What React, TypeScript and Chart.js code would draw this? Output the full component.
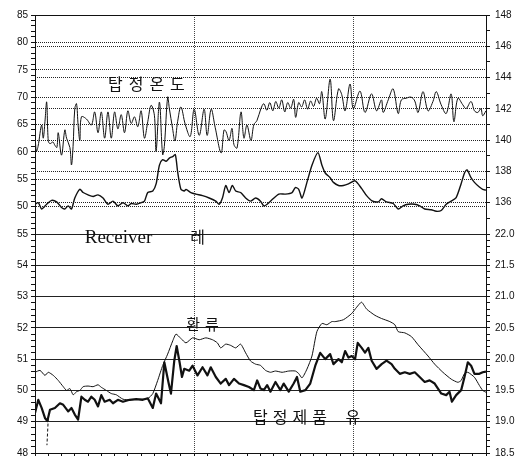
import React, { useEffect, useRef } from "react";
import { Chart, registerables } from "chart.js";

Chart.register(...registerables);

// x = elapsed time units (0..34); gridlines at 12 and 24
const xMajorLines = [12, 24];

// top panel, left axis: tower top temperature (탑정온도)
const towerTopTemp: [number, number][] = [
  [0, 63], [0.11, 60.1], [0.23, 61], [0.5, 64.9], [0.62, 62.5], [0.75, 65.5], [0.88, 69.1], [1.0, 62],
  [1.13, 61.5], [1.35, 61.8], [1.5, 61.2], [1.65, 60.8], [1.75, 63.5], [2.0, 59.4], [2.25, 64], [2.38, 62.5],
  [2.63, 60.8], [2.75, 57.6], [2.87, 61], [3.0, 67.9], [3.13, 68.8], [3.25, 64.9], [3.38, 62.1], [3.5, 66.4],
  [3.88, 66], [4.25, 64.9], [4.5, 67.3], [4.75, 63.5], [5.0, 67.3], [5.25, 62.5], [5.5, 67.3], [5.75, 62.5],
  [6.0, 67.3], [6.25, 64.2], [6.5, 66.8], [6.75, 63.5], [7.0, 67.5], [7.25, 65.2], [7.5, 66.4], [7.75, 64.6],
  [8.0, 67.5], [8.25, 62.5], [8.5, 65.5], [8.75, 68.5], [9.0, 66.7], [9.13, 60.1], [9.38, 69.1], [9.62, 59.5],
  [9.75, 61], [10.0, 70], [10.13, 67.9], [10.37, 64.3], [10.55, 62], [10.75, 65.5], [11.0, 68.2], [11.33, 65],
  [11.7, 62.8], [12.0, 67.8], [12.38, 63], [12.75, 67.8], [12.98, 63], [13.28, 67.8], [13.58, 64.5], [14.03, 59.8],
  [14.25, 64], [14.4, 63.7], [14.63, 62.1], [14.85, 64.3], [15.0, 61.3], [15.23, 60.7], [15.53, 67.3], [15.75, 62.5],
  [15.98, 64.9], [16.28, 62.1], [16.5, 65], [16.73, 65.7], [17.03, 67.9], [17.25, 68.8], [17.48, 67.6], [17.7, 69],
  [17.93, 67.5], [18.15, 69.2], [18.38, 68], [18.6, 69.5], [18.83, 67.3], [19.05, 69], [19.28, 68], [19.5, 69.6],
  [19.65, 66.3], [19.88, 69], [20.1, 68.2], [20.33, 69.5], [20.55, 67.8], [20.78, 69.3], [21.0, 68.3], [21.23, 69.8],
  [21.45, 68.8], [21.62, 71], [21.88, 66], [22.25, 73.3], [22.5, 65.7], [22.88, 71.5], [23.12, 70.5], [23.38, 67.5],
  [23.75, 72.4], [24.0, 67.9], [24.5, 71.1], [24.88, 67.2], [25.37, 70.6], [25.75, 67.5], [26.12, 69.5], [26.25, 67.2],
  [26.63, 69.5], [27.0, 71.5], [27.38, 67], [27.62, 69.5], [27.98, 69.8], [28.35, 70], [28.63, 69.3], [28.88, 67.2],
  [29.25, 71], [29.63, 67.5], [30.0, 69.2], [30.25, 71], [30.62, 68.6], [31.0, 67], [31.37, 70.6], [31.58, 65.5],
  [31.88, 69.8], [32.25, 68.6], [32.5, 67.9], [32.87, 69.2], [33.13, 67.5], [33.38, 67.2], [33.62, 67.9], [33.75, 66.6],
  [34.0, 67.5],
];

// top panel, right axis: receiver temperature
const receiverTemp: [number, number][] = [
  [0, 135.9], [0.25, 136.0], [0.5, 135.6], [0.88, 135.9], [1.25, 136.15], [1.63, 136.05], [2.0, 135.7], [2.25, 135.6],
  [2.5, 135.8], [2.75, 135.6], [3.0, 136.3], [3.38, 136.86], [3.63, 136.65], [4.0, 136.5], [4.38, 136.4], [4.75, 136.5],
  [5.13, 136.3], [5.5, 135.9], [5.88, 136.1], [6.25, 135.8], [6.63, 136.0], [7.0, 135.8], [7.25, 135.95], [7.63, 135.9],
  [8.0, 136.0], [8.25, 136.1], [8.5, 136.65], [8.88, 136.75], [9.13, 137.2], [9.38, 138.4], [9.62, 138.75], [9.88, 138.65],
  [10.13, 138.85], [10.38, 138.95], [10.58, 139.07], [10.75, 138.0], [11.0, 136.86], [11.25, 136.75], [11.38, 136.85],
  [11.75, 136.65], [12.13, 136.55], [12.63, 136.45], [13.13, 136.3], [13.63, 136.1], [13.88, 135.9], [14.13, 136.3],
  [14.38, 137.1], [14.63, 136.65], [14.88, 137.1], [15.13, 136.75], [15.5, 136.65], [15.88, 136.3], [16.25, 136.1],
  [16.63, 136.3], [17.0, 136.1], [17.25, 135.8], [17.5, 135.9], [17.88, 136.2], [18.38, 136.55], [18.88, 136.55],
  [19.38, 136.65], [19.63, 136.97], [19.88, 136.86], [20.13, 136.3], [20.5, 137.3], [20.88, 138.4], [21.33, 139.2],
  [21.63, 138.4], [21.88, 137.9], [22.25, 137.6], [22.5, 137.3], [22.88, 137.1], [23.25, 137.1], [23.63, 137.2],
  [24.13, 137.4], [24.63, 136.9], [25.0, 136.45], [25.37, 136.14], [25.88, 136.05], [26.12, 136.25], [26.5, 136.05],
  [27.0, 135.95], [27.38, 135.6], [27.75, 135.8], [28.13, 135.9], [28.63, 135.9], [29.0, 135.8], [29.38, 135.6],
  [29.87, 135.55], [30.25, 135.45], [30.62, 135.5], [31.0, 135.9], [31.37, 136.1], [31.75, 136.33], [32.12, 137.2],
  [32.38, 137.9], [32.57, 138.1], [32.87, 137.6], [33.13, 137.3], [33.5, 137.0], [33.75, 136.86], [34.0, 136.8],
];

// bottom panel, right axis: reflux (환류)
const refluxFlow: [number, number][] = [
  [0, 19.79], [0.38, 19.82], [0.75, 19.74], [1.0, 19.79], [1.38, 19.74], [1.75, 19.66], [2.13, 19.56], [2.38, 19.5],
  [2.63, 19.53], [2.88, 19.43], [3.13, 19.48], [3.38, 19.5], [3.63, 19.56], [4.0, 19.57], [4.38, 19.56], [4.75, 19.59],
  [5.0, 19.55], [5.38, 19.5], [5.75, 19.45], [6.13, 19.43], [6.63, 19.36], [7.13, 19.35], [7.88, 19.36], [8.5, 19.37],
  [8.88, 19.45], [9.25, 19.66], [9.63, 19.9], [10.0, 20.08], [10.38, 20.29], [10.63, 20.4], [11.0, 20.33], [11.38, 20.26],
  [11.88, 20.34], [12.38, 20.31], [12.88, 20.34], [13.38, 20.31], [13.75, 20.26], [14.0, 20.18], [14.38, 20.24],
  [14.75, 20.22], [15.13, 20.18], [15.5, 20.24], [15.88, 20.1], [16.25, 19.97], [16.63, 19.92], [17.0, 19.9],
  [17.38, 19.82], [17.75, 19.79], [18.13, 19.81], [18.63, 19.79], [19.13, 19.81], [19.63, 19.81], [19.88, 19.77],
  [20.13, 19.7], [20.5, 19.84], [20.88, 20.05], [21.25, 20.44], [21.63, 20.57], [22.0, 20.55], [22.38, 20.6],
  [22.63, 20.6], [23.25, 20.63], [23.88, 20.73], [24.25, 20.83], [24.62, 20.91], [25.0, 20.8], [25.63, 20.7],
  [26.12, 20.65], [26.75, 20.6], [27.13, 20.55], [27.38, 20.44], [27.88, 20.42], [28.38, 20.36], [28.88, 20.23],
  [29.63, 20.05], [30.13, 19.92], [30.75, 19.79], [31.38, 19.68], [31.88, 19.63], [32.13, 19.66], [32.38, 19.77],
  [32.63, 19.79], [33.13, 19.71], [33.5, 19.58], [33.75, 19.5], [34.0, 19.47],
];

// bottom panel, left axis: top product (탑정제품 유)
const productFlow: [number, number][] = [
  [0, 49.28], [0.25, 49.7], [0.5, 49.44], [0.75, 49.12], [0.93, 49.02], [1.13, 49.38], [1.5, 49.44], [1.88, 49.59],
  [2.13, 49.54], [2.5, 49.33], [2.75, 49.44], [3.0, 49.23], [3.25, 49.07], [3.5, 49.8], [3.75, 49.7], [4.0, 49.64],
  [4.25, 49.8], [4.5, 49.7], [4.75, 49.49], [5.0, 49.85], [5.25, 49.64], [5.63, 49.7], [5.88, 49.59], [6.25, 49.7],
  [6.63, 49.64], [7.13, 49.7], [7.63, 49.72], [8.13, 49.7], [8.5, 49.75], [8.88, 49.44], [9.13, 49.9], [9.5, 49.59],
  [9.75, 50.9], [10.08, 50.22], [10.25, 49.9], [10.5, 50.95], [10.68, 51.42], [10.9, 50.9], [11.08, 50.43],
  [11.25, 50.69], [11.63, 50.63], [11.88, 50.79], [12.25, 50.48], [12.63, 50.74], [13.0, 50.48], [13.25, 50.74],
  [13.63, 50.43], [14.0, 50.22], [14.38, 50.37], [14.63, 50.17], [15.0, 50.37], [15.38, 50.22], [15.75, 50.17],
  [16.13, 50.11], [16.5, 50.01], [16.75, 50.32], [17.0, 50.06], [17.25, 50.01], [17.5, 50.17], [17.75, 49.96],
  [18.13, 50.27], [18.5, 50.01], [18.75, 50.22], [19.13, 49.96], [19.5, 50.22], [19.75, 50.43], [20.0, 49.96],
  [20.38, 50.01], [20.75, 50.22], [21.13, 50.79], [21.5, 51.2], [21.88, 51.0], [22.25, 51.16], [22.5, 50.84],
  [22.88, 51.0], [23.13, 50.9], [23.38, 51.26], [23.63, 51.05], [23.88, 51.1], [24.13, 51.0], [24.33, 51.52],
  [24.63, 51.36], [24.88, 51.21], [25.13, 51.36], [25.38, 50.95], [25.75, 50.69], [26.13, 50.84], [26.5, 50.95],
  [26.88, 50.84], [27.13, 50.69], [27.5, 50.53], [27.88, 50.58], [28.25, 50.53], [28.63, 50.58], [29.0, 50.43],
  [29.38, 50.27], [29.75, 50.32], [30.13, 50.22], [30.63, 49.9], [31.0, 49.85], [31.25, 49.96], [31.43, 49.64],
  [31.75, 49.85], [32.13, 50.01], [32.38, 50.43], [32.63, 50.9], [32.88, 50.79], [33.13, 50.53], [33.5, 50.53],
  [33.75, 50.58], [34.0, 50.6],
];

// short dropout trace of the product signal
const productDropout: [number, number][] = [[1.0, 49.1], [0.9, 48.25]];

const topLeftTicks = { min: 45, max: 85, step: 1, major: 5, hide: [45], digits: 0 };
const topRightTicks = { min: 134, max: 148, step: 1, major: 2, hide: [134], digits: 0 };
const botLeftTicks = { min: 48, max: 55, step: 0.2, major: 1, hide: [] as number[], digits: 0 };
const botRightTicks = { min: 18.5, max: 22, step: 0.1, major: 0.5, hide: [] as number[], digits: 1 };

const isMult = (v: number, m: number) => Math.abs(v / m - Math.round(v / m)) < 1e-6;

function yAxis(position: "left" | "right", stack: string, cfg: typeof topLeftTicks) {
  return {
    type: "linear" as const,
    position,
    stack,
    stackWeight: 1,
    min: cfg.min,
    max: cfg.max,
    afterFit: (s: any) => {
      s.width = position === "left" ? 35 : 34;
    },
    ticks: {
      stepSize: cfg.step,
      autoSkip: false,
      padding: position === "left" ? 3 : 5,
      color: "#111",
      font: { family: "'Liberation Sans', Arial, sans-serif", size: 10 },
      callback: (v: any) => {
        const n = Number(v);
        if (!isMult(n, cfg.major)) return "";
        if (cfg.hide.some((h) => Math.abs(h - n) < 1e-6)) return "";
        return n.toFixed(cfg.digits);
      },
    },
    grid: {
      drawOnChartArea: true,
      drawTicks: true,
      tickLength: 4,
      lineWidth: 1,
      color: (c: any) => (c.tick && isMult(c.tick.value, cfg.major) ? "#222" : "rgba(0,0,0,0)"),
      tickColor: "#111",
    },
    border: { display: true, color: "#111", width: 1, dash: [1, 1] },
  };
}

const textPlugin = {
  id: "panelText",
  afterDatasetsDraw(chart: any) {
    const { ctx, scales } = chart;
    const put = (text: string, t: number, axis: string, v: number, font: string, spacing: string) => {
      const px = scales.x.getPixelForValue(t);
      const py = scales[axis].getPixelForValue(v);
      ctx.save();
      ctx.fillStyle = "#111";
      ctx.font = font;
      (ctx as any).letterSpacing = spacing;
      ctx.textAlign = "left";
      ctx.textBaseline = "middle";
      ctx.fillText(text, px, py);
      ctx.restore();
    };
    const kr = "'Noto Sans CJK KR', sans-serif";
    put("탑정온도", 5.5, "yT", 72.4, `16px ${kr}`, "6px");
    put("Receiver", 3.75, "yB", 54.87, "19px 'Liberation Serif', serif", "0px");
    put("레", 11.7, "yB", 54.9, `16px ${kr}`, "0px");
    put("환류", 11.4, "yB", 52.1, `15px ${kr}`, "5px");
    put("탑정제품", 16.44, "yB", 49.16, `16px ${kr}`, "5px");
    put("유", 23.4, "yB", 49.16, `16px ${kr}`, "0px");
  },
};

export default function App() {
  const ref = useRef<HTMLCanvasElement | null>(null);

  useEffect(() => {
    if (!ref.current) return;
    const toPts = (arr: [number, number][]) => arr.map(([x, y]) => ({ x, y }));
    const line = (data: [number, number][], yAxisID: string, width: number, extra: any = {}) => ({
      data: toPts(data),
      xAxisID: "x",
      yAxisID,
      borderColor: "#111",
      borderWidth: width,
      pointRadius: 0,
      tension: 0,
      fill: false,
      borderJoinStyle: "round",
      ...extra,
    });

    const chart = new Chart(ref.current, {
      type: "line",
      data: {
        datasets: [
          line(towerTopTemp, "yT", 1, { tension: 0.35 }),
          line(receiverTemp, "rT", 1.4, { tension: 0.25 }),
          line(refluxFlow, "rB", 1, { tension: 0.2 }),
          line(productFlow, "yB", 2.2),
          line(productDropout, "yB", 1, { borderDash: [3, 2] }),
        ] as any,
      },
      options: {
        responsive: false,
        maintainAspectRatio: false,
        animation: false,
        devicePixelRatio: 1,
        layout: { padding: 0 },
        plugins: { legend: { display: false }, tooltip: { enabled: false } },
        scales: {
          x: {
            type: "linear",
            position: "bottom",
            min: 0,
            max: 34,
            afterFit: (s: any) => {
              s.height = 3;
            },
            ticks: { display: false, stepSize: 1, autoSkip: false },
            grid: {
              drawTicks: true,
              tickLength: 3,
              color: (c: any) => (c.tick && xMajorLines.includes(c.tick.value) ? "#444" : "rgba(0,0,0,0)"),
              tickColor: "#111",
            },
            border: { display: true, color: "#111", width: 1, dash: [1, 1] },
          },
          xTop: {
            type: "linear",
            position: "top",
            min: 0,
            max: 34,
            afterFit: (s: any) => {
              s.height = 15;
            },
            ticks: { display: false },
            grid: { display: false },
            border: { display: true, color: "#111", width: 1 },
          },
          // stacking order: left stack places first-defined lowest, right stack first-defined highest
          yB: yAxis("left", "L", botLeftTicks),
          yT: yAxis("left", "L", topLeftTicks),
          rT: yAxis("right", "R", topRightTicks),
          rB: yAxis("right", "R", botRightTicks),
        } as any,
      },
      plugins: [textPlugin],
    });
    return () => chart.destroy();
  }, []);

  return (
    <div style={{ position: "fixed", left: 0, top: 0, width: 520, height: 464, background: "#fff" }}>
      <canvas ref={ref} width={520} height={464} style={{ display: "block" }} />
    </div>
  );
}
